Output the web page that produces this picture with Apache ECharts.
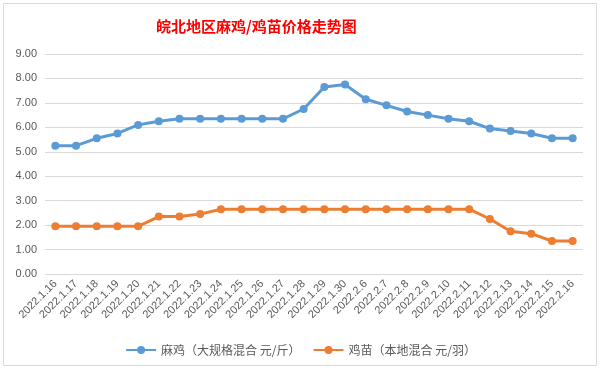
<!DOCTYPE html>
<html><head><meta charset="utf-8">
<script src="https://cdn.jsdelivr.net/npm/echarts@6/dist/echarts.min.js"></script>
<style>html,body{margin:0;padding:0;background:#fff}#c{width:601px;height:371px}</style>
</head><body><div id="c"></div>
<script>
const categories = ['2022.1.16','2022.1.17','2022.1.18','2022.1.19','2022.1.20','2022.1.21','2022.1.22','2022.1.23','2022.1.24','2022.1.25','2022.1.26','2022.1.27','2022.1.28','2022.1.29','2022.1.30','2022.2.6','2022.2.7','2022.2.8','2022.2.9','2022.2.10','2022.2.11','2022.2.12','2022.2.13','2022.2.14','2022.2.15','2022.2.16'];
const maji = [5.25,5.25,5.55,5.75,6.1,6.25,6.35,6.35,6.35,6.35,6.35,6.35,6.75,7.65,7.75,7.15,6.9,6.65,6.5,6.35,6.25,5.95,5.85,5.75,5.55,5.55];
const jimiao = [1.95,1.95,1.95,1.95,1.95,2.35,2.35,2.45,2.65,2.65,2.65,2.65,2.65,2.65,2.65,2.65,2.65,2.65,2.65,2.65,2.65,2.25,1.75,1.65,1.35,1.35];
const seriesNames = ['麻鸡（大规格混合 元/斤）','鸡苗（本地混合 元/羽）'];
const titleText = '皖北地区麻鸡/鸡苗价格走势图';

const chart = echarts.init(document.getElementById('c'));
chart.setOption({
  animation: false,
  backgroundColor: '#fff',
  graphic: [{type:'rect', shape:{x:3.5,y:3.5,width:593,height:362}, style:{fill:'none', stroke:'#d9d9d9', lineWidth:1}}],
  title: {text: titleText, left: 151, top: 14,
    textStyle: {color:'#ff0000', fontSize:15, fontWeight:'bold', fontFamily:'Noto Sans CJK SC'}},
  legend: {bottom: 10, left:'center', itemWidth: 30, itemHeight: 10, itemGap: 12,
    textStyle:{color:'#595959', fontSize:12, fontFamily:'Noto Sans CJK SC'},
    data: seriesNames},
  grid: {left: 45, right: 18, top: 54, bottom: 97},
  xAxis: {type:'category', data: categories, boundaryGap: true,
    axisLine:{show:false}, axisTick:{show:false},
    axisLabel:{rotate:45, interval:0, color:'#595959', fontSize:11, fontFamily:'Liberation Sans', margin:8}},
  yAxis: {type:'value', min:0, max:9, interval:1,
    axisLine:{show:false}, axisTick:{show:false},
    splitLine:{lineStyle:{color:'#d9d9d9'}},
    axisLabel:{formatter: v => v.toFixed(2), color:'#595959', fontSize:11, fontFamily:'Liberation Sans', margin:8}},
  series: [
    {name: seriesNames[0], type:'line', data: maji, symbol:'circle', symbolSize:8,
      lineStyle:{color:'#5b9bd5', width:3}, itemStyle:{color:'#5b9bd5'}},
    {name: seriesNames[1], type:'line', data: jimiao, symbol:'circle', symbolSize:8,
      lineStyle:{color:'#ed7d31', width:3}, itemStyle:{color:'#ed7d31'}}
  ]
});
</script></body></html>
